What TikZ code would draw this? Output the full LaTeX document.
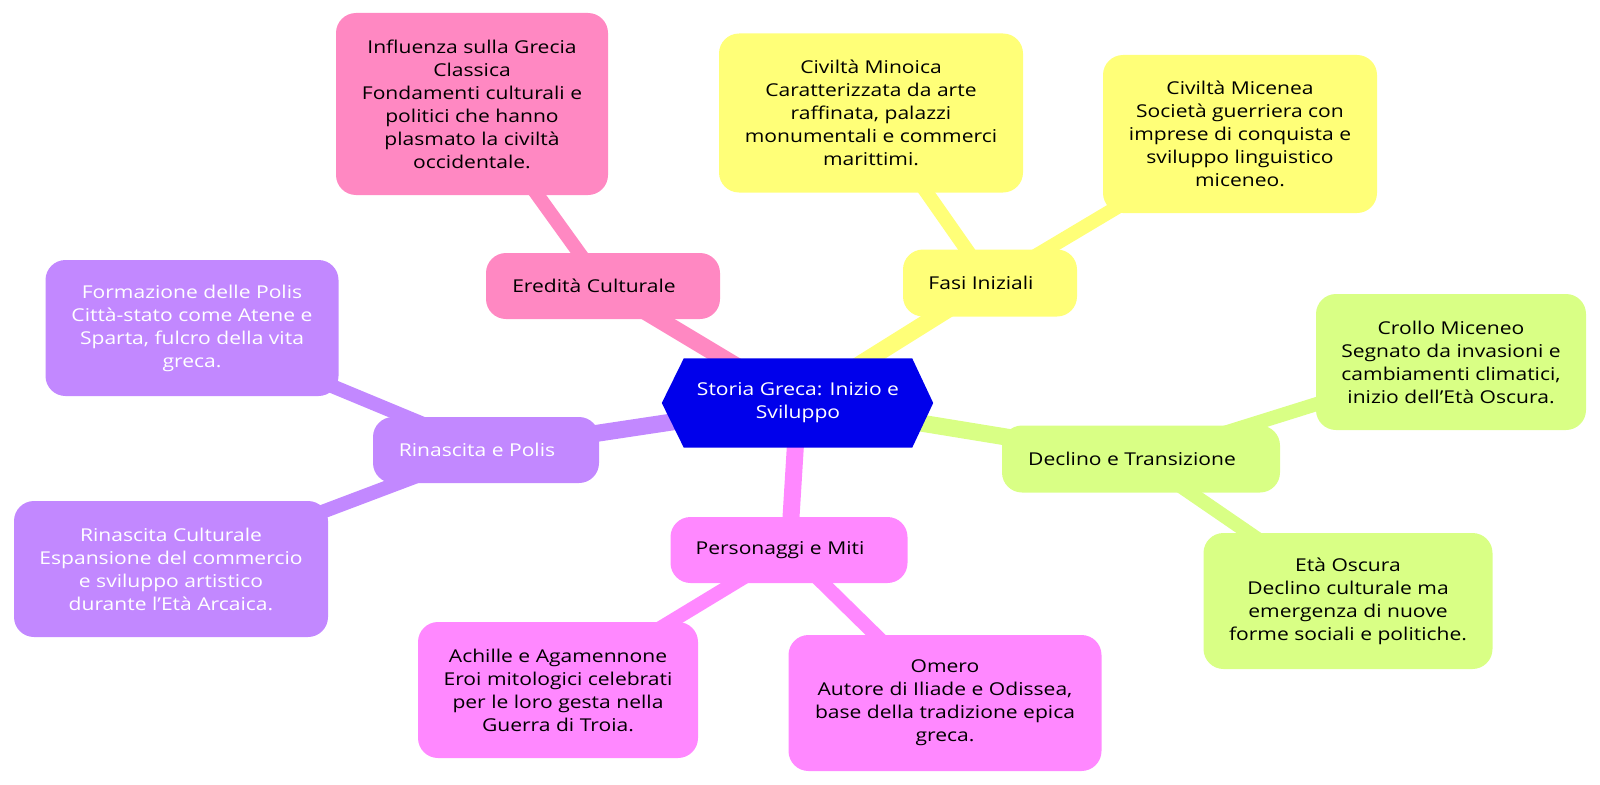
\documentclass[tikz,border=0pt]{standalone}
\usepackage{fontspec}
\setmainfont{Open Sans}[FakeStretch=1.19]
\usepackage{tikz}
\usepackage{xcolor}
\usetikzlibrary{positioning,backgrounds}

\definecolor{rootblue}{HTML}{0000EB}
\definecolor{pinkc}{HTML}{FF88C2}
\definecolor{yellowc}{HTML}{FFFF78}
\definecolor{greenc}{HTML}{D9FF85}
\definecolor{magentac}{HTML}{FF88FF}
\definecolor{purplec}{HTML}{C288FF}

\begin{document}
\begin{tikzpicture}[x=1pt,y=-1pt,
box/.style={rectangle,rounded corners=20pt,inner sep=0pt,align=center,
    font=\fontsize{17.7}{23}\selectfont},
sect/.style={rectangle,rounded corners=20pt,inner sep=0pt,
    minimum height=66pt,font=\fontsize{17.7}{23}\selectfont,
    execute at end node={\hspace{18pt}}},
link/.style={line width=17pt},
sublink/.style={line width=14pt}]
\useasboundingbox (0,0) rectangle (1600,784);

% root
\node (root) [inner sep=0pt,minimum width=228pt,minimum height=89pt,align=center,
    text=white,font=\fontsize{17.7}{23}\selectfont] at (798,403)
    {Storia Greca: Inizio e\\Sviluppo};

% sections
\node (ered) [sect,fill=pinkc,minimum width=234pt] at (603,286) {Eredità Culturale};
\node (fasi) [sect,fill=yellowc,minimum width=174pt,minimum height=67pt] at (990,283) {Fasi Iniziali};
\node (decl) [sect,fill=greenc,minimum width=278pt,minimum height=67pt] at (1141,459) {Declino e Transizione};
\node (pers) [sect,fill=magentac,minimum width=237pt] at (789,550) {Personaggi e Miti};
\node (rina) [sect,fill=purplec,minimum width=226pt,text=white] at (486,450) {Rinascita e Polis};

% leaves
\node (infl) [box,fill=pinkc,minimum width=272pt,minimum height=182pt] at (472,104)
    {Influenza sulla Grecia\\Classica\\Fondamenti culturali e\\politici che hanno\\plasmato la civiltà\\occidentale.};
\node (mino) [box,fill=yellowc,minimum width=304pt,minimum height=159pt] at (871,113)
    {Civiltà Minoica\\Caratterizzata da arte\\raffinata, palazzi\\monumentali e commerci\\marittimi.};
\node (mice) [box,fill=yellowc,minimum width=274pt,minimum height=158pt] at (1240,134)
    {Civiltà Micenea\\Società guerriera con\\imprese di conquista e\\sviluppo linguistico\\miceneo.};
\node (crol) [box,fill=greenc,minimum width=270pt,minimum height=136pt] at (1451,362)
    {Crollo Miceneo\\Segnato da invasioni e\\cambiamenti climatici,\\inizio dell’Età Oscura.};
\node (eta) [box,fill=greenc,minimum width=289pt,minimum height=136pt] at (1348,601)
    {Età Oscura\\Declino culturale ma\\emergenza di nuove\\forme sociali e politiche.};
\node (achi) [box,fill=magentac,minimum width=280pt,minimum height=136pt] at (558,690)
    {Achille e Agamennone\\Eroi mitologici celebrati\\per le loro gesta nella\\Guerra di Troia.};
\node (omer) [box,fill=magentac,minimum width=313pt,minimum height=136pt] at (945,703)
    {Omero\\Autore di Iliade e Odissea,\\base della tradizione epica\\greca.};
\node (form) [box,fill=purplec,text=white,minimum width=293pt,minimum height=136pt] at (192,328)
    {Formazione delle Polis\\Città-stato come Atene e\\Sparta, fulcro della vita\\greca.};
\node (rcul) [box,fill=purplec,text=white,minimum width=314pt,minimum height=136pt] at (171,569)
    {Rinascita Culturale\\Espansione del commercio\\e sviluppo artistico\\durante l’Età Arcaica.};

\begin{scope}[on background layer]
\draw[link,pinkc] (root.center) -- (ered.center);
\draw[link,yellowc] (root.center) -- (fasi.center);
\draw[link,greenc] (root.center) -- (decl.center);
\draw[link,magentac] (root.center) -- (pers.center);
\draw[link,purplec] (root.center) -- (rina.center);
\draw[sublink,pinkc] (ered.center) -- (infl.center);
\draw[sublink,yellowc] (fasi.center) -- (mino.center);
\draw[sublink,yellowc] (fasi.center) -- (mice.center);
\draw[sublink,greenc] (decl.center) -- (crol.center);
\draw[sublink,greenc] (decl.center) -- (eta.center);
\draw[sublink,magentac] (pers.center) -- (achi.center);
\draw[sublink,magentac] (pers.center) -- (omer.center);
\draw[sublink,purplec] (rina.center) -- (form.center);
\draw[sublink,purplec] (rina.center) -- (rcul.center);
% hexagon of the root
\fill[rootblue] (root.north west) -- (root.north east) -- ([xshift=21pt]root.east)
    -- (root.south east) -- (root.south west) -- ([xshift=-22pt]root.west) -- cycle;
\end{scope}
\end{tikzpicture}
\end{document}
